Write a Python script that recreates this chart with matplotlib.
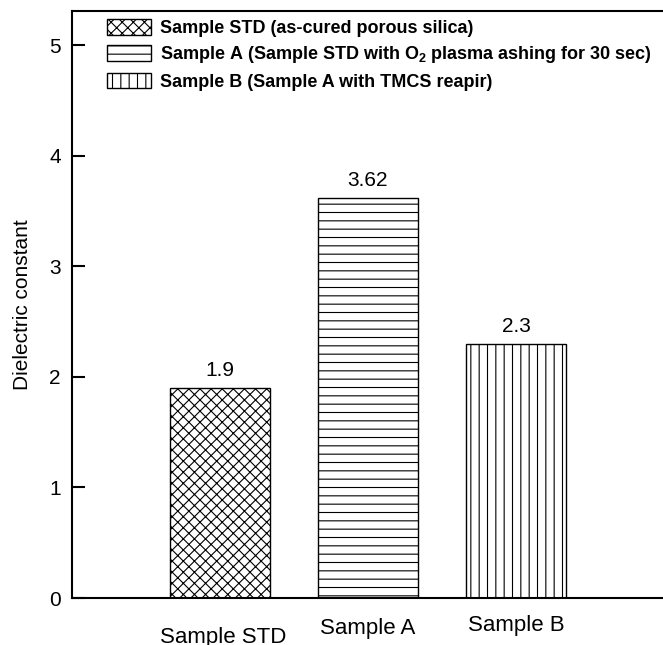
import matplotlib
matplotlib.use('Agg')
import matplotlib.pyplot as plt

plt.rcParams['font.family'] = ['Liberation Sans', 'DejaVu Sans']
plt.rcParams['mathtext.fontset'] = 'custom'
plt.rcParams['mathtext.rm'] = 'Liberation Sans'
plt.rcParams['mathtext.bf'] = 'Liberation Sans:bold'
plt.rcParams['hatch.linewidth'] = 0.8

# donnees
samples = ['Sample STD', 'Sample A', 'Sample B']
valeurs = [1.9, 3.62, 2.3]
etiquettes = ['1.9', '3.62', '2.3']
legendes = ['Sample STD (as-cured porous silica)',
            r'Sample A (Sample STD with O$_\mathbf{2}$ plasma ashing for 30 sec)',
            'Sample B (Sample A with TMCS reapir)']
hachures = ['xxx', '--', '||']
decalages = [-0.068, -0.052, -0.047]  # les noms sous l'axe ne sont pas alignes

fig = plt.figure(figsize=(6.63, 6.45), dpi=100)
ax = fig.add_axes([72 / 663, 47 / 645, 592 / 663, 587 / 645])

x = [1, 2, 3]
for i in range(len(samples)):
    ax.bar(x[i], valeurs[i], width=0.67, color='white', edgecolor='black',
           hatch=hachures[i], linewidth=1.0, label=legendes[i])
    ax.text(x[i], valeurs[i] + 0.07, etiquettes[i], ha='center', va='bottom', fontsize=15)

ax.set_xlim(0, 4)
ax.set_ylim(0, 5.31)
ax.set_yticks([0, 1, 2, 3, 4, 5])
ax.set_xticks([])
ax.tick_params(axis='y', direction='in', length=9, width=1.5, labelsize=15, pad=8)
ax.set_ylabel('Dielectric constant', fontsize=15, labelpad=12)

for i in range(len(samples)):
    ax.text(x[i] + (0.02 if i == 0 else 0), decalages[i], samples[i],
            transform=ax.get_xaxis_transform(), ha='center', va='center', fontsize=16)

for s in ['left', 'bottom', 'top']:
    ax.spines[s].set_linewidth(1.5)
ax.spines['right'].set_visible(False)

ax.legend(loc='upper left', bbox_to_anchor=(0.059, 0.986), frameon=False,
          prop={'weight': 'bold', 'size': 13}, handlelength=2.45,
          handleheight=0.94, labelspacing=0.4, handletextpad=0.5,
          borderpad=0, borderaxespad=0)

fig.savefig('out.png', dpi=100)
